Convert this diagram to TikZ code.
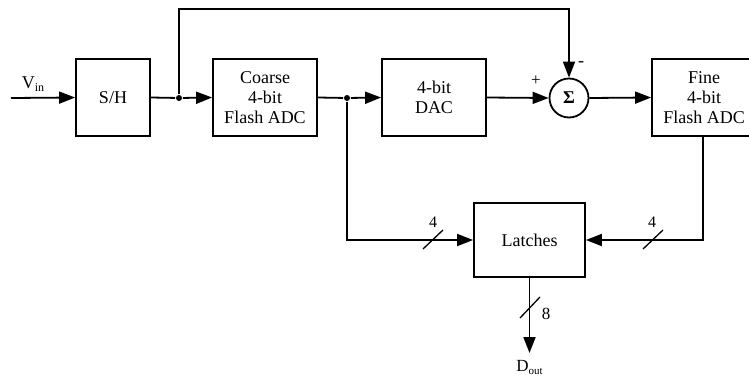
\documentclass[tikz,border=0pt]{standalone}
\usepackage{fontspec}
\setmainfont{Liberation Serif}
\usetikzlibrary{arrows.meta}
\begin{document}
\begin{tikzpicture}[x=1pt,y=-1pt,
  line width=1.8pt,
  blk/.style={draw, minimum width=104pt, minimum height=77pt, inner sep=0pt, align=center, font=\fontsize{18}{20}\selectfont},
  sumnode/.style={draw, circle, minimum size=39pt, inner sep=0pt, font=\fontsize{18}{20}\selectfont\bfseries},
  arr/.style={-{Triangle[length=16pt,width=12pt]}},
  dot/.style={circle, fill, inner sep=0pt, minimum size=6pt},
  lbl/.style={font=\fontsize{17}{19}\selectfont, inner sep=0pt},
  busmark/.style={line width=1.3pt}]
\useasboundingbox (0,0) rectangle (749,378);

\node[blk, minimum width=74pt] (sh) at (113,97.5) {S/H};
\node[blk] (coarse) at (265,97.5) {Coarse\\4-bit\\Flash ADC};
\node[blk] (dac) at (434,97.5) {4-bit\\DAC};
\node[sumnode] (sum) at (569,98) {Σ};
\node[blk] (fine) at (704,97.5) {Fine\\4-bit\\Flash ADC};
\node[blk, minimum width=111pt, minimum height=74pt] (latch) at (529.5,240) {Latches};

\coordinate (vin) at (11,98);
\node[lbl, font=\fontsize{18}{20}\selectfont] (vinlbl) at (33,84) {V\raisebox{-0.45ex}{\fontsize{12}{12}\selectfont in}};
\node[dot] (j1) at (179,98) {};
\node[dot] (j2) at (347,98) {};
\coordinate (dout) at (529.5,353);
\node[lbl, font=\fontsize{17}{18}\selectfont, anchor=north] (doutlbl) at (529.5,359) {D\raisebox{-0.45ex}{\fontsize{11}{11}\selectfont out}};

\draw[arr] (vin) -- (sh.west);
\draw (sh.east) -- (j1);
\draw[arr] (j1) -- (coarse.west);
\draw (coarse.east) -- (j2);
\draw[arr] (j2) -- (dac.west);
\draw[arr] (dac.east) -- (sum.west);
\draw[arr] (sum.east) -- (fine.west);
\draw[arr] (j1) |- (569,9) -- (sum.north);
\draw[arr] (j2) |- (latch.west);
\draw[arr] (fine.south -| 703,0) |- (latch.east);
\draw[arr] (latch.south) -- (dout);

\node[lbl, font=\fontsize{17}{18}\selectfont] (plus) at (536,81) {+};
\node[lbl, font=\fontsize{18}{18}\selectfont] (minus) at (581,64) {-};

\draw[busmark] (423,249) -- (443,230);
\node[lbl, font=\fontsize{16}{18}\selectfont] (n4a) at (433,222) {4};
\draw[busmark] (643,249) -- (663,230);
\node[lbl, font=\fontsize{16}{18}\selectfont] (n4b) at (652,222) {4};
\draw[busmark] (520,318) -- (540,297);
\node[lbl, font=\fontsize{17}{18}\selectfont] (n8) at (546,314) {8};
\end{tikzpicture}
\end{document}
